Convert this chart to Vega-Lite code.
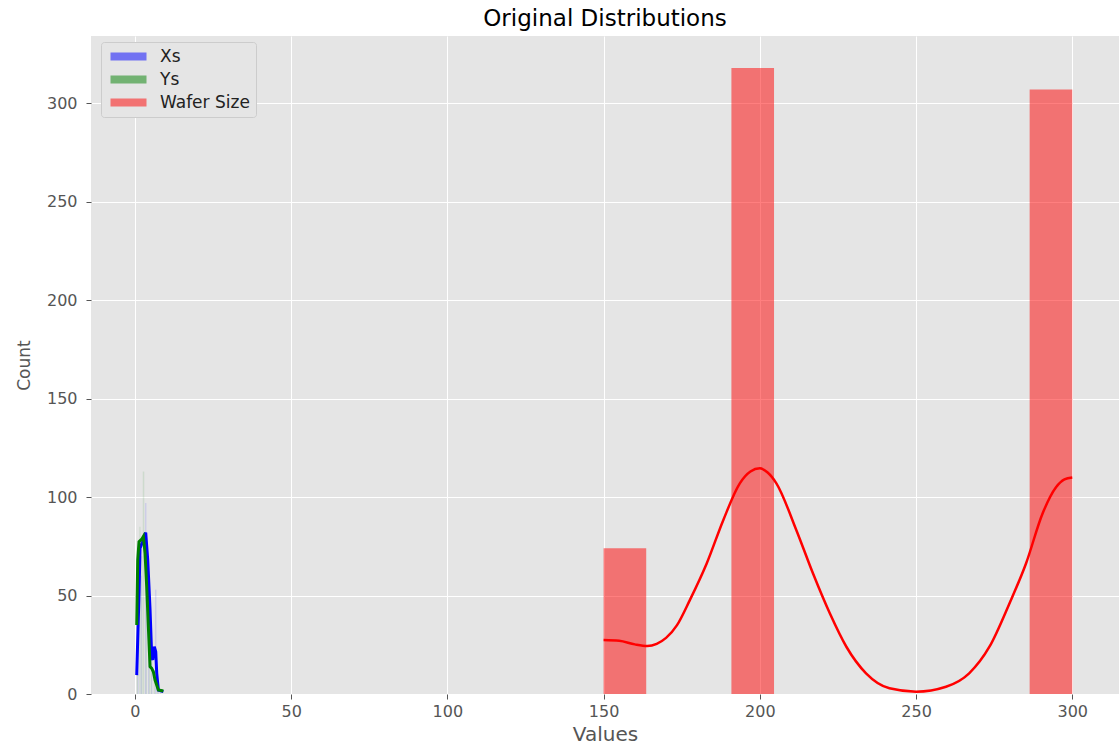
{
  "$schema": "https://vega.github.io/schema/vega-lite/v6.json",
  "width": 1028,
  "height": 658,
  "autosize": {"type": "none"},
  "padding": {"left": 91, "top": 36, "right": 1, "bottom": 55},
  "background": "white",
  "title": {
    "text": "Original Distributions",
    "font": "DejaVu Sans",
    "fontSize": 23,
    "fontWeight": "normal",
    "color": "#000000",
    "anchor": "middle",
    "offset": 5
  },
  "config": {
    "view": {"fill": "#e5e5e5", "stroke": null},
    "font": "DejaVu Sans",
    "axis": {
      "domain": false,
      "grid": true,
      "gridColor": "#ffffff",
      "gridWidth": 1,
      "tickColor": "#555555",
      "tickSize": 5,
      "labelColor": "#555555",
      "labelFont": "DejaVu Sans",
      "labelFontSize": 16,
      "titleFont": "DejaVu Sans",
      "titleColor": "#555555",
      "titleFontWeight": "normal"
    }
  },
  "datasets": {
    "hist": [
      {"series": "Xs", "bin_start": 0.8, "bin_end": 1.2, "count": 10},
      {"series": "Xs", "bin_start": 1.8, "bin_end": 2.2, "count": 60},
      {"series": "Xs", "bin_start": 3.2, "bin_end": 3.7, "count": 97},
      {"series": "Xs", "bin_start": 4.2, "bin_end": 4.6, "count": 50},
      {"series": "Xs", "bin_start": 5.2, "bin_end": 5.6, "count": 18},
      {"series": "Xs", "bin_start": 6.4, "bin_end": 6.9, "count": 53},
      {"series": "Xs", "bin_start": 7.4, "bin_end": 7.8, "count": 5},
      {"series": "Ys", "bin_start": 0.6, "bin_end": 1.0, "count": 35},
      {"series": "Ys", "bin_start": 1.4, "bin_end": 1.8, "count": 85},
      {"series": "Ys", "bin_start": 2.0, "bin_end": 2.4, "count": 70},
      {"series": "Ys", "bin_start": 2.5, "bin_end": 3.0, "count": 113},
      {"series": "Ys", "bin_start": 3.4, "bin_end": 3.8, "count": 60},
      {"series": "Ys", "bin_start": 4.4, "bin_end": 4.8, "count": 30},
      {"series": "Ys", "bin_start": 5.0, "bin_end": 5.4, "count": 12},
      {"series": "Ys", "bin_start": 6.0, "bin_end": 6.4, "count": 12},
      {"series": "Ys", "bin_start": 7.0, "bin_end": 7.4, "count": 5},
      {"series": "Ys", "bin_start": 8.0, "bin_end": 8.4, "count": 1},
      {"series": "Wafer Size", "bin_start": 150, "bin_end": 163.64, "count": 74},
      {"series": "Wafer Size", "bin_start": 190.91, "bin_end": 204.55, "count": 318},
      {"series": "Wafer Size", "bin_start": 286.36, "bin_end": 300, "count": 307}
    ],
    "kde": [
      {"series": "Xs", "value": 0.57, "density": 9.6},
      {"series": "Xs", "value": 1.31, "density": 51},
      {"series": "Xs", "value": 1.63, "density": 74},
      {"series": "Xs", "value": 2.1, "density": 76},
      {"series": "Xs", "value": 2.7, "density": 78},
      {"series": "Xs", "value": 3.45, "density": 82},
      {"series": "Xs", "value": 4.1, "density": 68},
      {"series": "Xs", "value": 4.84, "density": 42.7},
      {"series": "Xs", "value": 5.37, "density": 19},
      {"series": "Xs", "value": 5.7, "density": 17.3},
      {"series": "Xs", "value": 6.2, "density": 24},
      {"series": "Xs", "value": 6.66, "density": 21.5},
      {"series": "Xs", "value": 6.98, "density": 10.5},
      {"series": "Xs", "value": 7.5, "density": 2},
      {"series": "Xs", "value": 9.1, "density": 1.2},
      {"series": "Ys", "value": 0.57, "density": 35},
      {"series": "Ys", "value": 0.89, "density": 68},
      {"series": "Ys", "value": 1.31, "density": 77.4},
      {"series": "Ys", "value": 2.17, "density": 78.6},
      {"series": "Ys", "value": 2.7, "density": 80},
      {"series": "Ys", "value": 3.24, "density": 71.4},
      {"series": "Ys", "value": 3.77, "density": 54.5},
      {"series": "Ys", "value": 4.3, "density": 34},
      {"series": "Ys", "value": 4.84, "density": 13.9},
      {"series": "Ys", "value": 5.37, "density": 13},
      {"series": "Ys", "value": 5.9, "density": 11.3},
      {"series": "Ys", "value": 6.44, "density": 7.1},
      {"series": "Ys", "value": 7.5, "density": 2},
      {"series": "Ys", "value": 9.1, "density": 1.5},
      {"series": "Wafer Size", "value": 150, "density": 27.4},
      {"series": "Wafer Size", "value": 155, "density": 27.0},
      {"series": "Wafer Size", "value": 160, "density": 25.2},
      {"series": "Wafer Size", "value": 164, "density": 24.4},
      {"series": "Wafer Size", "value": 167, "density": 25.5},
      {"series": "Wafer Size", "value": 170, "density": 28.5},
      {"series": "Wafer Size", "value": 173.5, "density": 35},
      {"series": "Wafer Size", "value": 177.6, "density": 47.7},
      {"series": "Wafer Size", "value": 183, "density": 66.3},
      {"series": "Wafer Size", "value": 188.3, "density": 88.3},
      {"series": "Wafer Size", "value": 193.6, "density": 107},
      {"series": "Wafer Size", "value": 197, "density": 113},
      {"series": "Wafer Size", "value": 200, "density": 114.6},
      {"series": "Wafer Size", "value": 202.5, "density": 112.5},
      {"series": "Wafer Size", "value": 205.3, "density": 107},
      {"series": "Wafer Size", "value": 211.7, "density": 83.2},
      {"series": "Wafer Size", "value": 217, "density": 61.3},
      {"series": "Wafer Size", "value": 222.4, "density": 41},
      {"series": "Wafer Size", "value": 227.7, "density": 24},
      {"series": "Wafer Size", "value": 234, "density": 10.5},
      {"series": "Wafer Size", "value": 241.5, "density": 2.9},
      {"series": "Wafer Size", "value": 250, "density": 1.2},
      {"series": "Wafer Size", "value": 259.6, "density": 3.7},
      {"series": "Wafer Size", "value": 267, "density": 10.5},
      {"series": "Wafer Size", "value": 273.5, "density": 24},
      {"series": "Wafer Size", "value": 279.9, "density": 46},
      {"series": "Wafer Size", "value": 285.2, "density": 66.3},
      {"series": "Wafer Size", "value": 290.5, "density": 91.7},
      {"series": "Wafer Size", "value": 294.8, "density": 105},
      {"series": "Wafer Size", "value": 297.5, "density": 109},
      {"series": "Wafer Size", "value": 300, "density": 110}
    ]
  },
  "layer": [
    {
      "data": {"name": "hist"},
      "mark": {"type": "rect"},
      "encoding": {
        "x": {
          "field": "bin_start",
          "type": "quantitative",
          "scale": {"domain": [-14.06, 314.96], "nice": false, "zero": false},
          "axis": {
            "values": [0, 50, 100, 150, 200, 250, 300],
            "title": "Values",
            "titleFontSize": 20,
            "labelPadding": 4,
            "titlePadding": 5
          }
        },
        "x2": {"field": "bin_end"},
        "y": {
          "field": "count",
          "type": "quantitative",
          "scale": {"domain": [0, 334.2], "nice": false},
          "axis": {
            "values": [0, 50, 100, 150, 200, 250, 300],
            "title": "Count",
            "titleFontSize": 17,
            "labelPadding": 9,
            "titlePadding": 13
          }
        },
        "y2": {"datum": 0},
        "color": {
          "field": "series",
          "type": "nominal",
          "scale": {"domain": ["Xs", "Ys", "Wafer Size"], "range": ["blue", "green", "red"]},
          "legend": {
            "title": null,
            "orient": "none",
            "legendX": 10,
            "legendY": 6,
            "symbolType": "M-1,-0.8L6.2,-0.8L6.2,0.8L-1,0.8Z",
            "symbolSize": 100,
            "symbolOpacity": 0.5,
            "symbolStrokeWidth": 0,
            "labelFont": "DejaVu Sans",
            "labelFontSize": 17,
            "labelColor": "#222222",
            "labelOffset": 36,
            "rowPadding": 5,
            "padding": 6,
            "fillColor": "#e5e5e5",
            "strokeColor": "#cccccc",
            "cornerRadius": 3
          }
        },
        "opacity": {
          "condition": {"test": "datum.series === 'Wafer Size'", "value": 0.5},
          "value": 0.1
        }
      }
    },
    {
      "data": {"name": "kde"},
      "transform": [{"filter": "datum.series === 'Xs'"}],
      "mark": {"type": "line", "color": "blue", "strokeWidth": 3},
      "encoding": {
        "x": {"field": "value", "type": "quantitative"},
        "y": {"field": "density", "type": "quantitative"}
      }
    },
    {
      "data": {"name": "kde"},
      "transform": [{"filter": "datum.series === 'Ys'"}],
      "mark": {"type": "line", "color": "green", "strokeWidth": 3},
      "encoding": {
        "x": {"field": "value", "type": "quantitative"},
        "y": {"field": "density", "type": "quantitative"}
      }
    },
    {
      "data": {"name": "kde"},
      "transform": [{"filter": "datum.series === 'Wafer Size'"}],
      "mark": {"type": "line", "color": "red", "strokeWidth": 2.5, "interpolate": "monotone"},
      "encoding": {
        "x": {"field": "value", "type": "quantitative"},
        "y": {"field": "density", "type": "quantitative"}
      }
    }
  ]
}
